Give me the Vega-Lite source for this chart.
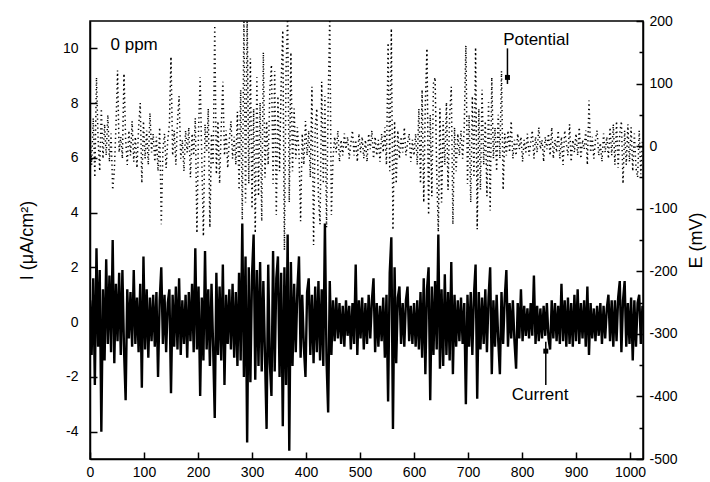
{
"$schema": "https://vega.github.io/schema/vega-lite/v6.json",
"width": 553, "height": 438,
"autosize": {"type": "none"},
"padding": {"left": 90, "top": 21, "right": 67, "bottom": 23},
"background": "white",
"config": {
 "view": {"stroke": "#000", "strokeWidth": 1.5},
 "axis": {"grid": false, "labelFont": "Liberation Sans", "labelFontSize": 14, "labelColor": "#000", "titleFont": "Liberation Sans", "titleFontSize": 18, "titleFontWeight": "normal", "titleColor": "#000", "domainColor": "#000", "domainWidth": 1.5, "tickColor": "#000", "tickWidth": 1.5, "labelFlush": false, "labelOverlap": false}
},
"data": {"values": [
{"t":0,"i":0.8,"e":20},{"t":3,"i":-1.2,"e":-30},{"t":6,"i":1.6,"e":45},{"t":9,"i":-2.3,"e":-50},{"t":12,"i":2.7,"e":110},{"t":15,"i":-0.9,"e":10},{"t":18,"i":1.9,"e":-40},{"t":21,"i":-4.0,"e":60},{"t":24,"i":1.2,"e":-20},{"t":27,"i":-1.4,"e":35},
{"t":30,"i":2.3,"e":-15},{"t":33,"i":-0.8,"e":50},{"t":36,"i":1.7,"e":-25},{"t":39,"i":-1.1,"e":20},{"t":42,"i":3.0,"e":-70},{"t":45,"i":-1.5,"e":-40},{"t":48,"i":1.4,"e":30},{"t":51,"i":-0.7,"e":121},{"t":54,"i":1.8,"e":-10},{"t":57,"i":-1.2,"e":15},
{"t":60,"i":1.9,"e":-20},{"t":63,"i":-1.0,"e":116},{"t":66,"i":-2.85,"e":10},{"t":69,"i":1.2,"e":-30},{"t":72,"i":-0.6,"e":25},{"t":75,"i":1.1,"e":-15},{"t":78,"i":-0.9,"e":40},{"t":81,"i":1.9,"e":-25},{"t":84,"i":-0.8,"e":15},{"t":87,"i":0.9,"e":-35},
{"t":90,"i":-1.1,"e":30},{"t":93,"i":1.4,"e":69},{"t":96,"i":-2.4,"e":-59},{"t":99,"i":2.4,"e":40},{"t":102,"i":-1.0,"e":-20},{"t":105,"i":1.2,"e":25},{"t":108,"i":-1.3,"e":-30},{"t":111,"i":0.9,"e":53},{"t":114,"i":-0.7,"e":-10},{"t":117,"i":1.0,"e":20},
{"t":120,"i":-0.9,"e":-25},{"t":123,"i":1.1,"e":15},{"t":126,"i":-2.0,"e":-40},{"t":129,"i":0.8,"e":30},{"t":132,"i":2.0,"e":-125},{"t":135,"i":-0.8,"e":-5},{"t":138,"i":1.0,"e":20},{"t":141,"i":-1.1,"e":-35},{"t":144,"i":0.7,"e":10},{"t":147,"i":1.2,"e":35},
{"t":150,"i":-2.6,"e":143},{"t":153,"i":1.0,"e":-15},{"t":156,"i":-0.9,"e":25},{"t":159,"i":1.3,"e":-30},{"t":162,"i":-1.0,"e":40},{"t":165,"i":1.6,"e":80},{"t":168,"i":-1.2,"e":-20},{"t":171,"i":0.8,"e":10},{"t":174,"i":-0.8,"e":-40},{"t":177,"i":1.0,"e":25},
{"t":180,"i":-1.3,"e":-10},{"t":183,"i":1.1,"e":30},{"t":186,"i":-0.7,"e":-50},{"t":189,"i":1.4,"e":20},{"t":192,"i":-1.1,"e":-15},{"t":195,"i":2.7,"e":45},{"t":198,"i":-1.0,"e":-139},{"t":201,"i":1.3,"e":25},{"t":204,"i":-2.7,"e":110},{"t":207,"i":0.9,"e":-20},
{"t":210,"i":-1.4,"e":-144},{"t":213,"i":2.6,"e":35},{"t":216,"i":-1.0,"e":-10},{"t":219,"i":1.2,"e":60},{"t":222,"i":-1.6,"e":-130},{"t":225,"i":1.4,"e":20},{"t":228,"i":-0.9,"e":-30},{"t":231,"i":-3.5,"e":193},{"t":234,"i":1.8,"e":-45},{"t":237,"i":-1.2,"e":40},
{"t":240,"i":1.3,"e":-60},{"t":243,"i":-1.4,"e":30},{"t":246,"i":2.1,"e":103},{"t":249,"i":-2.3,"e":-15},{"t":252,"i":1.0,"e":25},{"t":255,"i":-0.8,"e":-35},{"t":258,"i":1.2,"e":10},{"t":261,"i":-1.0,"e":40},{"t":264,"i":1.4,"e":-20},{"t":267,"i":-1.3,"e":15},
{"t":270,"i":1.1,"e":-30},{"t":273,"i":-1.6,"e":55},{"t":276,"i":1.8,"e":-70},{"t":279,"i":-1.4,"e":90},{"t":282,"i":3.6,"e":-118},{"t":285,"i":-2.0,"e":210},{"t":288,"i":2.4,"e":-90},{"t":291,"i":-4.4,"e":210},{"t":294,"i":2.0,"e":-60},{"t":297,"i":-2.2,"e":140},
{"t":300,"i":1.7,"e":-100},{"t":303,"i":3.2,"e":60},{"t":306,"i":-2.1,"e":-139},{"t":309,"i":1.9,"e":110},{"t":312,"i":-1.6,"e":-80},{"t":315,"i":2.2,"e":70},{"t":318,"i":-1.8,"e":-120},{"t":321,"i":1.5,"e":150},{"t":324,"i":-1.2,"e":-50},{"t":327,"i":-3.9,"e":40},
{"t":330,"i":2.1,"e":-30},{"t":333,"i":-1.5,"e":90},{"t":336,"i":-2.7,"e":130},{"t":339,"i":2.6,"e":-60},{"t":342,"i":-1.8,"e":120},{"t":345,"i":1.6,"e":-110},{"t":348,"i":2.4,"e":80},{"t":351,"i":-2.0,"e":-40},{"t":354,"i":1.8,"e":100},{"t":357,"i":-3.8,"e":185},
{"t":360,"i":2.0,"e":-166},{"t":363,"i":-2.3,"e":120},{"t":366,"i":3.2,"e":210},{"t":369,"i":-4.7,"e":-90},{"t":372,"i":2.2,"e":150},{"t":375,"i":-1.6,"e":-40},{"t":378,"i":1.4,"e":60},{"t":381,"i":-1.1,"e":-20},{"t":384,"i":1.2,"e":30},{"t":387,"i":2.4,"e":-10},
{"t":390,"i":-1.3,"e":-120},{"t":393,"i":1.0,"e":20},{"t":396,"i":-0.9,"e":-30},{"t":399,"i":-2.0,"e":40},{"t":402,"i":1.1,"e":-15},{"t":405,"i":1.6,"e":25},{"t":408,"i":-1.2,"e":-50},{"t":411,"i":1.0,"e":95},{"t":414,"i":-1.5,"e":-158},{"t":417,"i":1.3,"e":30},
{"t":420,"i":-1.1,"e":60},{"t":423,"i":1.5,"e":-80},{"t":426,"i":-1.4,"e":-125},{"t":429,"i":1.2,"e":103},{"t":432,"i":-1.6,"e":-60},{"t":435,"i":3.6,"e":80},{"t":438,"i":-1.4,"e":-130},{"t":441,"i":-3.3,"e":70},{"t":444,"i":1.5,"e":210},{"t":447,"i":-1.2,"e":-110},
{"t":450,"i":0.8,"e":-20},{"t":453,"i":-0.7,"e":15},{"t":456,"i":0.9,"e":-10},{"t":459,"i":-0.6,"e":25},{"t":462,"i":0.7,"e":-25},{"t":465,"i":-0.8,"e":10},{"t":468,"i":0.6,"e":-15},{"t":471,"i":-0.9,"e":20},{"t":474,"i":0.8,"e":-5},{"t":477,"i":-0.5,"e":15},
{"t":480,"i":0.6,"e":-20},{"t":483,"i":-1.0,"e":5},{"t":486,"i":0.7,"e":25},{"t":489,"i":-0.8,"e":-15},{"t":492,"i":2.1,"e":10},{"t":495,"i":-1.2,"e":-25},{"t":498,"i":0.8,"e":20},{"t":501,"i":-0.6,"e":-10},{"t":504,"i":0.9,"e":15},{"t":507,"i":-1.0,"e":-20},
{"t":510,"i":0.7,"e":10},{"t":513,"i":-0.8,"e":-25},{"t":516,"i":1.0,"e":20},{"t":519,"i":-0.6,"e":-5},{"t":522,"i":0.8,"e":25},{"t":525,"i":1.6,"e":-20},{"t":528,"i":-1.1,"e":15},{"t":531,"i":0.7,"e":-15},{"t":534,"i":-0.9,"e":10},{"t":537,"i":0.6,"e":-25},
{"t":540,"i":-0.7,"e":20},{"t":543,"i":0.9,"e":-10},{"t":546,"i":-1.3,"e":30},{"t":549,"i":1.0,"e":-30},{"t":552,"i":-2.9,"e":165},{"t":555,"i":1.8,"e":-40},{"t":558,"i":3.1,"e":188},{"t":561,"i":-3.9,"e":-134},{"t":564,"i":2.0,"e":40},{"t":567,"i":-1.5,"e":-60},
{"t":570,"i":0.9,"e":25},{"t":573,"i":1.3,"e":-20},{"t":576,"i":-0.8,"e":15},{"t":579,"i":0.7,"e":-10},{"t":582,"i":-0.9,"e":30},{"t":585,"i":0.8,"e":-15},{"t":588,"i":1.3,"e":5},{"t":591,"i":-0.7,"e":20},{"t":594,"i":0.6,"e":-25},{"t":597,"i":-0.8,"e":10},
{"t":600,"i":0.7,"e":-15},{"t":603,"i":-0.9,"e":20},{"t":606,"i":0.8,"e":-30},{"t":609,"i":-1.0,"e":60},{"t":612,"i":1.1,"e":-60},{"t":615,"i":-1.3,"e":90},{"t":618,"i":1.6,"e":-90},{"t":621,"i":-1.9,"e":70},{"t":624,"i":1.2,"e":156},{"t":627,"i":2.0,"e":-110},
{"t":630,"i":-2.85,"e":50},{"t":633,"i":1.3,"e":-80},{"t":636,"i":-1.2,"e":100},{"t":639,"i":1.5,"e":110},{"t":642,"i":-1.0,"e":-40},{"t":645,"i":3.2,"e":-137},{"t":648,"i":-1.7,"e":60},{"t":651,"i":1.2,"e":-90},{"t":654,"i":-1.6,"e":40},{"t":657,"i":1.75,"e":-30},
{"t":660,"i":-1.2,"e":70},{"t":663,"i":1.1,"e":-70},{"t":666,"i":-1.4,"e":50},{"t":669,"i":2.2,"e":95},{"t":672,"i":-1.9,"e":-125},{"t":675,"i":1.0,"e":30},{"t":678,"i":-0.9,"e":-40},{"t":681,"i":0.8,"e":20},{"t":684,"i":-0.7,"e":-15},{"t":687,"i":0.9,"e":25},
{"t":690,"i":-0.8,"e":-20},{"t":693,"i":0.7,"e":30},{"t":696,"i":-3.0,"e":161},{"t":699,"i":1.0,"e":-60},{"t":702,"i":-0.9,"e":50},{"t":705,"i":1.1,"e":-90},{"t":708,"i":-1.2,"e":80},{"t":711,"i":1.0,"e":-50},{"t":714,"i":2.1,"e":158},{"t":717,"i":-2.8,"e":-133},
{"t":720,"i":1.1,"e":60},{"t":723,"i":-1.0,"e":-70},{"t":726,"i":0.9,"e":90},{"t":729,"i":-0.8,"e":-30},{"t":732,"i":1.2,"e":40},{"t":735,"i":-1.1,"e":-80},{"t":738,"i":0.9,"e":70},{"t":741,"i":2.0,"e":-103},{"t":744,"i":-1.9,"e":110},{"t":747,"i":0.8,"e":-20},
{"t":750,"i":-0.9,"e":30},{"t":753,"i":1.0,"e":-40},{"t":756,"i":-0.7,"e":50},{"t":759,"i":-1.9,"e":-20},{"t":762,"i":1.1,"e":120},{"t":765,"i":-0.8,"e":-70},{"t":768,"i":0.9,"e":20},{"t":771,"i":1.9,"e":-15},{"t":774,"i":-0.9,"e":25},{"t":777,"i":0.7,"e":-10},
{"t":780,"i":-0.6,"e":40},{"t":783,"i":0.8,"e":-20},{"t":786,"i":-0.7,"e":10},{"t":789,"i":-1.7,"e":-15},{"t":792,"i":0.7,"e":20},{"t":795,"i":-0.6,"e":-5},{"t":798,"i":1.2,"e":15},{"t":801,"i":-0.7,"e":-25},{"t":804,"i":0.6,"e":10},{"t":807,"i":-0.5,"e":-10},
{"t":810,"i":0.5,"e":20},{"t":813,"i":-0.6,"e":-15},{"t":816,"i":0.7,"e":5},{"t":819,"i":-0.5,"e":25},{"t":822,"i":1.7,"e":-20},{"t":825,"i":-0.8,"e":15},{"t":828,"i":0.6,"e":-10},{"t":831,"i":-0.7,"e":30},{"t":834,"i":0.5,"e":-5},{"t":837,"i":-0.6,"e":10},
{"t":840,"i":0.6,"e":-25},{"t":843,"i":-0.5,"e":15},{"t":846,"i":0.7,"e":-5},{"t":849,"i":-0.6,"e":20},{"t":852,"i":-1.0,"e":-15},{"t":855,"i":0.8,"e":30},{"t":858,"i":-0.6,"e":-20},{"t":861,"i":0.7,"e":10},{"t":864,"i":-0.7,"e":-10},{"t":867,"i":0.6,"e":25},
{"t":870,"i":-0.8,"e":-20},{"t":873,"i":1.4,"e":15},{"t":876,"i":-0.7,"e":-30},{"t":879,"i":0.8,"e":25},{"t":882,"i":-0.9,"e":5},{"t":885,"i":0.9,"e":-15},{"t":888,"i":-0.8,"e":35},{"t":891,"i":0.7,"e":-25},{"t":894,"i":-0.9,"e":10},{"t":897,"i":1.0,"e":-10},
{"t":900,"i":-0.7,"e":20},{"t":903,"i":1.2,"e":-15},{"t":906,"i":-0.8,"e":30},{"t":909,"i":0.7,"e":-20},{"t":912,"i":-0.6,"e":10},{"t":915,"i":0.8,"e":-5},{"t":918,"i":-0.9,"e":25},{"t":921,"i":1.3,"e":-30},{"t":924,"i":-1.2,"e":73},{"t":927,"i":0.7,"e":-10},
{"t":930,"i":-0.6,"e":15},{"t":933,"i":0.5,"e":-20},{"t":936,"i":-0.7,"e":10},{"t":939,"i":0.6,"e":25},{"t":942,"i":-0.5,"e":-15},{"t":945,"i":0.7,"e":5},{"t":948,"i":-0.8,"e":-25},{"t":951,"i":0.6,"e":20},{"t":954,"i":-0.6,"e":-10},{"t":957,"i":0.5,"e":15},
{"t":960,"i":1.0,"e":-20},{"t":963,"i":-0.7,"e":30},{"t":966,"i":0.8,"e":-15},{"t":969,"i":-0.9,"e":35},{"t":972,"i":0.8,"e":-30},{"t":975,"i":-0.7,"e":40},{"t":978,"i":0.9,"e":-35},{"t":981,"i":1.5,"e":20},{"t":984,"i":-1.1,"e":40},{"t":987,"i":0.8,"e":-60},
{"t":990,"i":1.5,"e":25},{"t":993,"i":-0.9,"e":-30},{"t":996,"i":0.7,"e":35},{"t":999,"i":-0.8,"e":-25},{"t":1002,"i":0.9,"e":30},{"t":1005,"i":-1.4,"e":-40},{"t":1008,"i":0.8,"e":20},{"t":1011,"i":-0.9,"e":-35},{"t":1014,"i":0.7,"e":-50},{"t":1017,"i":1.0,"e":25},{"t":1020,"i":-0.8,"e":-45},{"t":1023,"i":0.6,"e":10}
]},
"layer": [
 {"layer": [
  {"mark": {"type": "line", "color": "#000", "strokeWidth": 2.4, "clip": true},
   "encoding": {
    "x": {"field": "t", "type": "quantitative", "scale": {"domain": [0, 1024], "nice": false, "zero": false},
      "axis": {"title": null, "values": [0,50,100,150,200,250,300,350,400,450,500,550,600,650,700,750,800,850,900,950,1000],
        "labelExpr": "datum.value % 100 === 0 ? '' + datum.value : ''",
        "tickSize": {"condition": {"test": "datum.value % 100 === 0", "value": -7}, "value": -4}, "labelPadding": 13}},
    "y": {"field": "i", "type": "quantitative", "scale": {"domain": [-5, 11], "nice": false, "zero": false},
      "axis": {"title": "I (μA/cm²)", "values": [-4,-3,-2,-1,0,1,2,3,4,5,6,7,8,9,10],
        "labelExpr": "datum.value % 2 === 0 ? '' + datum.value : ''",
        "tickSize": {"condition": {"test": "datum.value % 2 === 0", "value": -7}, "value": -4}, "labelPadding": 19, "titlePadding": 26}}
   }},
  {"data": {"values": [{"t": 38, "i": 10.12, "label": "0 ppm"}, {"t": 765, "i": 10.32, "label": "Potential"}, {"t": 781, "i": -2.68, "label": "Current"}]},
   "mark": {"type": "text", "align": "left", "baseline": "middle", "font": "Liberation Sans", "fontSize": 17, "color": "#000"},
   "encoding": {"x": {"field": "t", "type": "quantitative"}, "y": {"field": "i", "type": "quantitative"}, "text": {"field": "label"}}},
  {"data": {"values": [{"t": 773, "i": 10.0, "i2": 8.7}, {"t": 844, "i": -2.3, "i2": -0.72}]},
   "mark": {"type": "rule", "color": "#000", "strokeWidth": 1.5},
   "encoding": {"x": {"field": "t", "type": "quantitative"}, "y": {"field": "i", "type": "quantitative"}, "y2": {"field": "i2"}}},
  {"data": {"values": [{"t": 773, "i": 8.94}, {"t": 844, "i": -1.06}]},
   "mark": {"type": "square", "filled": true, "color": "#000", "size": 25, "opacity": 1},
   "encoding": {"x": {"field": "t", "type": "quantitative"}, "y": {"field": "i", "type": "quantitative"}}}
 ]},
 {"mark": {"type": "line", "color": "#000", "strokeWidth": 1.5, "strokeDash": [1.3, 3.2], "clip": true},
  "encoding": {
   "x": {"field": "t", "type": "quantitative"},
   "y": {"field": "e", "type": "quantitative", "scale": {"domain": [-500, 200], "nice": false, "zero": false},
     "axis": {"orient": "right", "title": "E (mV)", "titleAngle": 270, "titleBaseline": "top", "values": [-500,-450,-400,-350,-300,-250,-200,-150,-100,-50,0,50,100,150,200],
       "labelExpr": "datum.value % 100 === 0 ? '' + datum.value : ''",
       "tickSize": {"condition": {"test": "datum.value % 100 === 0", "value": -7}, "value": -4}, "labelPadding": 13, "titlePadding": 10}}
  }}
],
"resolve": {"scale": {"y": "independent"}}
}
